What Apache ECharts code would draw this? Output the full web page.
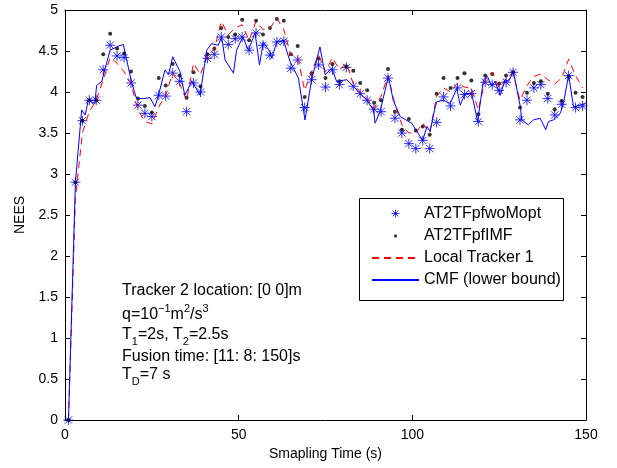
<!DOCTYPE html>
<html>
<head>
<meta charset="utf-8">
<script src="https://cdn.jsdelivr.net/npm/echarts@6/dist/echarts.min.js"></script>
<style>
  html, body { margin: 0; padding: 0; background: #fff; }
  #main { width: 617px; height: 468px; }
</style>
</head>
<body>
<div id="main"></div>
<script>
// sample times of the two marker series (s)
var sampleTimes = [1, 3, 5, 7, 9, 11, 13, 15, 17, 19, 21, 23, 25, 27, 29, 31, 33, 35, 37, 39,
  41, 43, 45, 47, 49, 51, 53, 55, 57, 59, 61, 63, 65, 67, 69, 71, 73, 75, 77, 79,
  81, 83, 85, 87, 89, 91, 93, 95, 97, 99, 101, 103, 105, 107, 109, 111, 113, 115, 117, 119,
  121, 123, 125, 127, 129, 131, 133, 135, 137, 139, 141, 143, 145, 147, 149];

var woMopt = [0, 2.9, 3.65, 3.9, 3.9, 4.27, 4.57, 4.44, 4.42, 4.11, 3.84, 3.74, 3.7, 3.96, 3.95, 4.23, 4.13, 3.76, 4.11, 4.0,
  4.41, 4.46, 4.67, 4.58, 4.65, 4.67, 4.51, 4.72, 4.57, 4.45, 4.61, 4.62, 4.29, 4.39, 3.81, 4.15, 4.33, 4.06, 4.27, 4.09,
  4.3, 4.07, 3.98, 3.9, 3.79, 3.76, 4.17, 3.68, 3.5, 3.37, 3.31, 3.41, 3.31, 3.63, 3.94, 3.83, 4.05, 3.97, 3.98, 3.64,
  4.12, 4.09, 4.02, 4.12, 4.24, 3.66, 3.9, 4.05, 4.09, 3.92, 3.72, 3.85, 4.2, 3.81, 3.83];

var pfIMF = [0, 2.9, 3.65, 3.9, 3.9, 4.46, 4.71, 4.53, 4.47, 4.25, 3.92, 3.83, 3.75, 4.17, 4.08, 4.34, 4.2, 3.93, 4.24, 4.07,
  4.46, 4.53, 4.78, 4.67, 4.7, 4.88, 4.63, 4.87, 4.7, 4.78, 4.89, 4.87, 4.46, 4.56, 3.94, 4.23, 4.41, 4.17, 4.34, 4.13,
  4.31, 4.26, 4.11, 4.02, 3.87, 3.9, 4.28, 3.76, 3.54, 3.67, 3.53, 3.58, 3.48, 3.98, 4.17, 4.05, 4.17, 4.23, 4.14, 3.73,
  4.2, 4.22, 4.1, 4.2, 4.24, 3.81, 3.99, 4.11, 4.13, 3.98, 3.79, 3.89, 4.19, 3.99, 3.94];

var localTracker1 = [0, 2.7, 3.5, 3.76, 3.9, 4.15, 4.42, 4.35, 4.25, 4.1, 3.78, 3.64, 3.61, 3.82, 3.96, 4.23, 4.1, 3.9, 4.35, 4.21,
  4.45, 4.52, 4.86, 4.7, 4.78, 4.82, 4.63, 4.86, 4.76, 4.78, 4.9, 4.76, 4.45, 4.43, 4.02, 4.25, 4.45, 4.25, 4.42, 4.27,
  4.35, 4.1, 4.0, 3.92, 3.8, 3.95, 4.2, 3.85, 3.6, 3.5, 3.5, 3.62, 3.5, 3.95, 4.05, 4.0, 4.11, 4.06, 4.05, 3.78,
  4.15, 4.24, 4.05, 4.17, 4.23, 3.9, 4.08, 4.19, 4.22, 4.15, 4.1, 4.17, 4.4, 4.2, 4.05];

// CMF lower bound, read at its own corner points
var cmfTimes = [1, 3, 4.8, 5.8, 6.7, 8.6, 9.1, 10.6, 11.3, 13, 15.4, 16.8, 17.3, 19.2, 20.6, 22.5, 24.5, 25.9, 26.9, 28.8,
  29.8, 31, 33.1, 34.5, 36.5, 37, 38.9, 40.8, 42.2, 44.1, 45.1, 46.1, 48.5, 49.4, 51.2, 52.8, 54.7, 56, 57.1, 59,
  59.5, 61, 62.9, 64.8, 67.2, 69.1, 71, 73.4, 74.9, 76.8, 78.2, 81.1, 83, 85, 86.9, 88.8, 89.3, 90.7, 93.1, 94.5,
  96.5, 99.8, 101.3, 103, 104.2, 105.1, 106.6, 107, 109, 110.9, 112.8, 113.8, 115.2, 117.1, 118.8, 120.5, 121.6, 122.9, 123.8, 125.3,
  126.7, 127.7, 129.1, 131.1, 131.5, 133.4, 134.9, 136.8, 138.4, 139.2, 140.6, 142.6, 143.5, 145, 146.4, 148.3, 149.8];
var cmfValues = [0, 2.9, 3.78, 3.72, 3.9, 3.86, 4.08, 4.13, 4.25, 4.51, 4.56, 4.58, 4.57, 4.11, 3.92, 3.92, 3.93, 3.82, 3.96, 4.27,
  4.21, 4.43, 4.25, 3.96, 4.13, 4.1, 3.96, 4.51, 4.59, 4.57, 4.67, 4.39, 4.23, 4.51, 4.67, 4.51, 4.72, 4.33, 4.61, 4.49,
  4.41, 4.61, 4.63, 4.37, 4.17, 3.66, 4.15, 4.55, 4.21, 4.29, 4.13, 4.15, 4.07, 3.98, 3.9, 3.78, 3.62, 3.76, 4.19, 3.9,
  3.7, 3.62, 3.52, 3.41, 3.58, 3.52, 3.82, 3.88, 3.9, 3.86, 4.04, 3.84, 3.98, 3.98, 3.64, 4.15, 4.19, 4.07, 4.13, 3.96,
  4.15, 4.13, 4.25, 3.82, 3.66, 3.6, 3.66, 3.68, 3.54, 3.64, 3.66, 3.74, 3.86, 4.21, 3.82, 3.84, 3.86];

var seriesNames = ['AT2TFpfwoMopt', 'AT2TFpfIMF', 'Local Tracker 1', 'CMF (lower bound)'];

function pairs(xs, ys) {
  return xs.map(function (x, i) { return [x, ys[i]]; });
}

var font = 'Liberation Sans';
var asterisk = 'path://M0,-4L0,4M-4,0L4,0M-2.9,-2.9L2.9,2.9M-2.9,2.9L2.9,-2.9';
var asteriskIcon = 'path://M-8,-8M8,8M0,-4L0,4M-4,0L4,0M-2.9,-2.9L2.9,2.9M-2.9,2.9L2.9,-2.9';
var dotIcon = 'path://M-8,-8M8,8M-1.4,-1.4L1.4,-1.4L1.4,1.4L-1.4,1.4Z';

var chart = echarts.init(document.getElementById('main'));

var axisCommon = {
  type: 'value',
  axisLine: { onZero: false, lineStyle: { color: '#000', width: 1 } },
  axisTick: { inside: true, length: 5, lineStyle: { color: '#000' } },
  splitLine: { show: false }
};

function sub(s) { return '{sub|' + s + '}'; }
function sup(s) { return '{sup|' + s + '}'; }
var rich = {
  b: { fontSize: 16, fontFamily: font, lineHeight: 24, verticalAlign: 'middle', fill: '#000' },
  sub: { fontSize: 11, fontFamily: font, lineHeight: 11, verticalAlign: 'bottom', fill: '#000' },
  sup: { fontSize: 11, fontFamily: font, lineHeight: 11, verticalAlign: 'top', fill: '#000' }
};
function note(y, text) {
  return { type: 'text', x: 122, y: y, z: 10, style: { text: text, rich: rich, verticalAlign: 'middle', fill: '#000', font: '16px ' + font } };
}

chart.setOption({
  animation: false,
  backgroundColor: '#fff',
  grid: { left: 65, right: 31, top: 10, bottom: 48 },
  xAxis: [
    Object.assign({}, axisCommon, {
      min: 0, max: 150, interval: 50,
      name: 'Smapling Time (s)', nameLocation: 'middle', nameGap: 25,
      nameTextStyle: { color: '#000', fontSize: 14, fontFamily: font },
      axisLabel: { color: '#000', fontSize: 14, fontFamily: font, margin: 8 }
    }),
    Object.assign({}, axisCommon, { position: 'top', min: 0, max: 150, interval: 50, axisLabel: { show: false } })
  ],
  yAxis: [
    Object.assign({}, axisCommon, {
      min: 0, max: 5, interval: 0.5,
      name: 'NEES', nameLocation: 'middle', nameGap: 33,
      nameTextStyle: { color: '#000', fontSize: 14, fontFamily: font },
      axisLabel: { color: '#000', fontSize: 14, fontFamily: font, margin: 7 }
    }),
    Object.assign({}, axisCommon, { position: 'right', min: 0, max: 5, interval: 0.5, axisLabel: { show: false } })
  ],
  legend: {
    orient: 'vertical',
    left: 371, top: 205,
    padding: 0,
    itemWidth: 47, itemHeight: 16, itemGap: 6,
    z: 12,
    textStyle: { color: '#000', fontSize: 16, fontFamily: font },
    data: [
      { name: seriesNames[0], icon: asteriskIcon, itemStyle: { color: 'transparent', borderColor: '#0000ff', borderWidth: 1 } },
      { name: seriesNames[1], icon: dotIcon, itemStyle: { color: '#000', borderWidth: 0 } },
      { name: seriesNames[2], itemStyle: { opacity: 0 } },
      { name: seriesNames[3], itemStyle: { opacity: 0 } }
    ]
  },
  graphic: [
    { type: 'rect', z: 11, shape: { x: 359.5, y: 198.5, width: 204, height: 102 }, style: { fill: '#fff', stroke: '#000', lineWidth: 1 } },
    note(291, '{b|Tracker 2 location: [0 0]m}'),
    note(315, '{b|q=10}' + sup('−1') + '{b|m}' + sup('2') + '{b|/s}' + sup('3')),
    note(335, '{b|T}' + sub('1') + '{b|=2s, T}' + sub('2') + '{b|=2.5s}'),
    note(357, '{b|Fusion time: [11: 8: 150]s}'),
    note(375, '{b|T}' + sub('D') + '{b|=7 s}')
  ],
  series: [
    {
      name: seriesNames[0], type: 'scatter',
      data: pairs(sampleTimes, woMopt),
      symbol: asterisk, symbolSize: 10,
      itemStyle: { color: 'transparent', borderColor: '#0000ff', borderWidth: 1 },
      z: 2
    },
    {
      name: seriesNames[1], type: 'scatter',
      data: pairs(sampleTimes, pfIMF),
      symbol: 'circle', symbolSize: 4,
      itemStyle: { color: '#000' },
      z: 3
    },
    {
      name: seriesNames[2], type: 'line',
      data: pairs(sampleTimes, localTracker1),
      symbol: 'none',
      lineStyle: { color: '#ff0000', width: 1, type: [7, 5] },
      itemStyle: { color: '#ff0000' },
      z: 4
    },
    {
      name: seriesNames[3], type: 'line',
      data: pairs(cmfTimes, cmfValues),
      symbol: 'none',
      lineStyle: { color: '#0000ff', width: 1 },
      itemStyle: { color: '#0000ff' },
      z: 5
    }
  ]
});
</script>
</body>
</html>
